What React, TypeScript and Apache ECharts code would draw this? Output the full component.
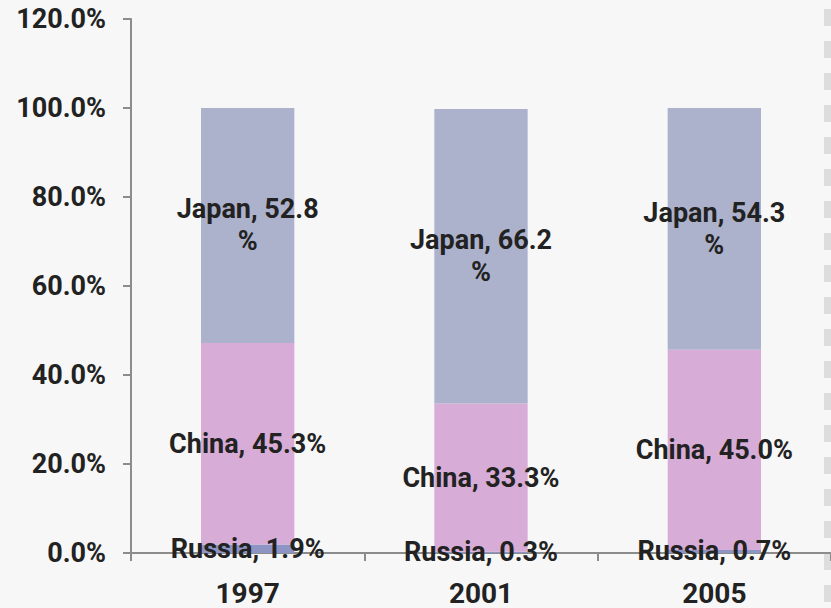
import React, { useEffect, useRef } from "react";
import * as echarts from "echarts";

const years = ["1997", "2001", "2005"];
const russia = [1.9, 0.3, 0.7];
const china = [45.3, 33.3, 45.0];
const japan = [52.8, 66.2, 54.3];
const yTicks = { min: 0, max: 120, interval: 20 };

const FONT = "Roboto, 'DejaVu Sans Condensed', sans-serif";
const TXT = "#222222";
const AXIS = "#8c8c8c";

export default function App() {
  const ref = useRef<HTMLDivElement>(null);
  useEffect(() => {
    const chart = echarts.init(ref.current!, null, { renderer: "svg" });
    const labelBase = {
      show: true,
      position: "inside" as const,
      color: TXT,
      fontFamily: FONT,
      fontWeight: "bold" as const,
      fontSize: 27,
      lineHeight: 32,
    };
    chart.setOption({
      animation: false,
      backgroundColor: "#f7f7f7",
      textStyle: { fontFamily: FONT },
      grid: {
        left: 131,
        right: 0,
        top: 19,
        bottom: 55,
        containLabel: false,
        outerBoundsMode: "none",
      },
      graphic: [
        {
          type: "line",
          shape: { x1: 827.5, y1: 9, x2: 827.5, y2: 608 },
          style: { stroke: "#dddddd", lineWidth: 7, lineDash: [17, 15] },
          z: 0,
        },
      ],
      xAxis: {
        type: "category",
        data: years,
        axisLine: { lineStyle: { color: AXIS, width: 2 } },
        axisTick: { show: true, length: 8, lineStyle: { color: AXIS, width: 2 } },
        axisLabel: {
          color: TXT,
          fontFamily: FONT,
          fontWeight: "bold",
          fontSize: 28,
          margin: 26,
        },
      },
      yAxis: {
        type: "value",
        min: yTicks.min,
        max: yTicks.max,
        interval: yTicks.interval,
        axisLine: { show: true, lineStyle: { color: AXIS, width: 2 } },
        axisTick: { show: true, length: 8, lineStyle: { color: AXIS, width: 2 } },
        splitLine: { show: false },
        axisLabel: {
          color: TXT,
          fontFamily: FONT,
          fontWeight: "bold",
          fontSize: 27,
          margin: 25,
          formatter: (v: number) => v.toFixed(1) + "%",
        },
      },
      series: [
        {
          name: "Russia",
          type: "bar",
          stack: "total",
          barWidth: "40%",
          data: russia,
          itemStyle: { color: "#8e94c3" },
          label: { ...labelBase, formatter: (p: any) => `Russia, ${p.value.toFixed(1)}%` },
        },
        {
          name: "China",
          type: "bar",
          stack: "total",
          data: china,
          itemStyle: { color: "#d7acd7" },
          label: { ...labelBase, formatter: (p: any) => `China, ${p.value.toFixed(1)}%` },
        },
        {
          name: "Japan",
          type: "bar",
          stack: "total",
          data: japan,
          itemStyle: { color: "#adb2cc" },
          label: { ...labelBase, formatter: (p: any) => `Japan, ${p.value.toFixed(1)}\n%` },
        },
      ],
    });
    return () => chart.dispose();
  }, []);
  return (
    <div
      ref={ref}
      style={{ position: "fixed", left: 0, top: 0, width: 831, height: 608 }}
    />
  );
}
